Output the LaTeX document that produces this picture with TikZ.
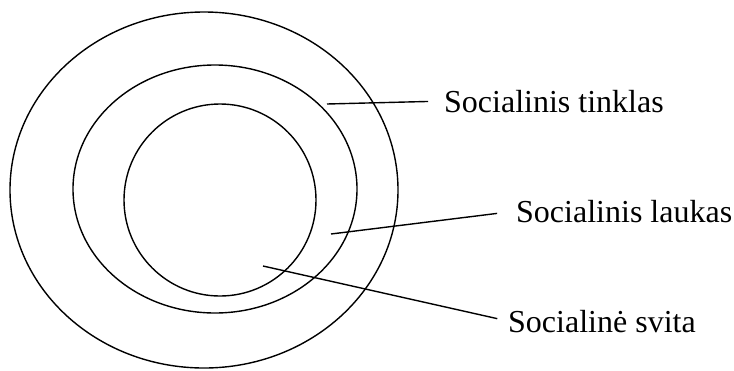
\documentclass[tikz,border=0pt]{standalone}
\usepackage{fontspec}
\setmainfont{Liberation Serif}
\usetikzlibrary{positioning, shapes.geometric}

\begin{document}
\begin{tikzpicture}[
    x=1bp, y=-1bp,
    ring/.style={ellipse, draw, line width=1.4bp, inner sep=0pt},
    tag/.style={font=\fontsize{32bp}{38bp}\selectfont, inner sep=0pt, anchor=base west},
    pointer/.style={line width=1.4bp, shorten >=16bp}
]
\useasboundingbox (0,0) rectangle (734,370);

% Rings
\node[ring, minimum width=388bp, minimum height=356bp] (tinklas ring) at (204,190) {};
\node[ring, minimum width=284bp, minimum height=248bp] (laukas ring) at (215,189) {};
\node[ring, minimum width=192bp, minimum height=192bp] (svita ring) at (220,200) {};

% Labels
\node[tag] (tinklas) at (444,112) {Socialinis tinklas};
\node[tag] (laukas) at (516,222) {Socialinis laukas};
\node[tag] (svita) at (508,332) {Socialinė svita};

% Pointers
\coordinate (tinklas in) at (327,104);
\coordinate (laukas in) at (331,234);
\coordinate (svita in) at (263,266);

\draw[pointer] (tinklas in) -- (tinklas.west);
\draw[pointer, shorten >=19bp] (laukas in) -- (laukas.west);
\draw[pointer, shorten >=11bp] (svita in) -- (svita.west);

\end{tikzpicture}
\end{document}
